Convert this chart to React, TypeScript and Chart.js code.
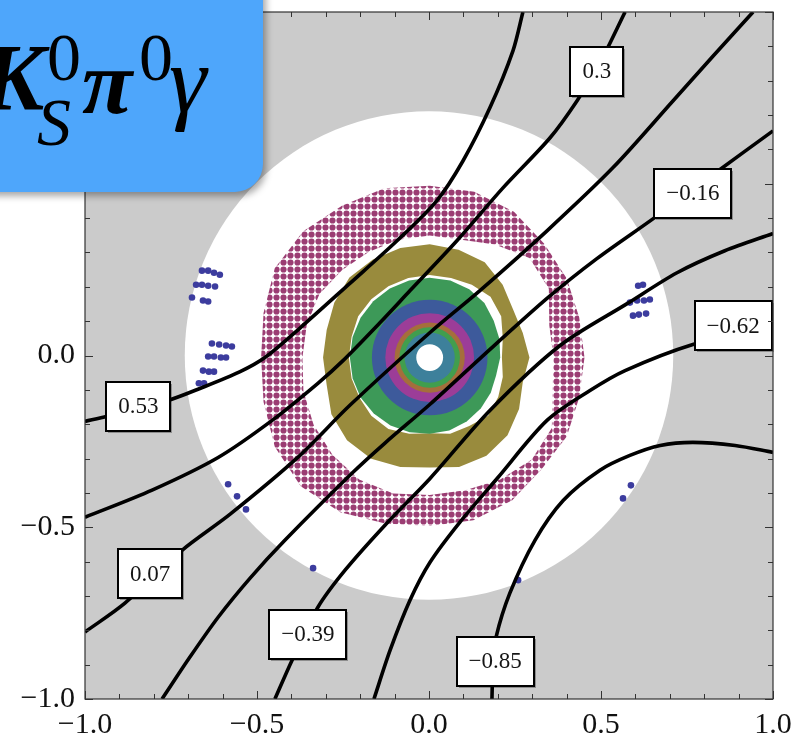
import React, { useEffect, useRef } from "react";
import { Chart, registerables } from "chart.js";

Chart.register(...registerables);

// ---------------- data ----------------
const axisTicks = [-1.0, -0.5, 0.0, 0.5, 1.0];
const minorTickStep = 0.1;
const diskRadius = 0.71;
const ringCenterX = 0.002;
const ringCenterY = -0.006;

// band boundaries: radius read at each angle (degrees)
const bandAngles = [0, 15, 30, 45, 60, 75, 90, 105, 120, 135, 150, 165, 180, 195, 210, 225, 240, 255, 270, 285, 300, 315, 330, 345];
const purpleOuter = [0.45, 0.45, 0.46, 0.47, 0.49, 0.5, 0.5, 0.51, 0.51, 0.52, 0.52, 0.5, 0.49, 0.5, 0.52, 0.53, 0.52, 0.5, 0.49, 0.49, 0.48, 0.46, 0.46, 0.45];
const purpleInner = [0.36, 0.36, 0.4, 0.41, 0.38, 0.355, 0.355, 0.355, 0.355, 0.36, 0.37, 0.37, 0.37, 0.38, 0.39, 0.4, 0.41, 0.41, 0.4, 0.4, 0.41, 0.42, 0.41, 0.37];
const oliveOuter = [0.29, 0.28, 0.28, 0.3, 0.32, 0.325, 0.33, 0.33, 0.33, 0.33, 0.32, 0.31, 0.31, 0.31, 0.33, 0.34, 0.34, 0.33, 0.32, 0.33, 0.33, 0.32, 0.3, 0.28];
const oliveInner = [0.21, 0.22, 0.24, 0.25, 0.245, 0.24, 0.24, 0.24, 0.24, 0.24, 0.24, 0.235, 0.235, 0.235, 0.235, 0.24, 0.24, 0.23, 0.22, 0.23, 0.23, 0.24, 0.23, 0.22];
const greenOuter = [0.205, 0.21, 0.215, 0.225, 0.23, 0.232, 0.232, 0.232, 0.232, 0.232, 0.232, 0.232, 0.232, 0.232, 0.232, 0.23, 0.228, 0.225, 0.222, 0.22, 0.215, 0.21, 0.205, 0.2];
// inner concentric rings, outer radius of each
const innerRingRadii = [0.168, 0.129, 0.102, 0.088, 0.073, 0.039];

// sparse outer points
const navyX = [-0.66, -0.642, -0.625, -0.608, -0.677, -0.66, -0.642, -0.622, -0.689, -0.657, -0.642, -0.631, -0.61, -0.59, -0.573, -0.642, -0.625, -0.605, -0.59, -0.657, -0.64, -0.625, -0.669, -0.654, 0.608, 0.622, 0.584, 0.605, 0.625, 0.642, 0.593, 0.61, 0.631, -0.584, -0.558, -0.532, -0.337, 0.587, 0.564, 0.259];
const navyY = [0.247, 0.247, 0.241, 0.235, 0.206, 0.206, 0.203, 0.201, 0.169, 0.16, 0.157, 0.035, 0.032, 0.029, 0.026, -0.003, -0.003, -0.006, -0.006, -0.044, -0.047, -0.047, -0.081, -0.081, 0.203, 0.206, 0.154, 0.16, 0.16, 0.163, 0.116, 0.119, 0.122, -0.375, -0.41, -0.448, -0.619, -0.378, -0.416, -0.654];

// contour lines
const contour053 = [[-1.0, -0.192], [-0.936, -0.177], [-0.759, -0.131], [-0.666, -0.096], [-0.549, -0.047], [-0.477, -0.006], [-0.375, 0.08], [-0.23, 0.21], [-0.093, 0.334], [0.023, 0.451], [0.099, 0.567], [0.177, 0.721], [0.244, 0.887], [0.273, 1.0]];
const contour030 = [[-1.0, -0.471], [-0.805, -0.392], [-0.613, -0.297], [-0.456, -0.189], [-0.323, -0.081], [-0.25, -0.015], [-0.142, 0.096], [-0.055, 0.189], [0.081, 0.334], [0.215, 0.488], [0.352, 0.634], [0.43, 0.741], [0.497, 0.852], [0.57, 1.0]];
const contour007 = [[-1.0, -0.805], [-0.884, -0.721], [-0.718, -0.567], [-0.578, -0.462], [-0.384, -0.299], [-0.23, -0.145], [0.003, 0.067], [0.148, 0.189], [0.343, 0.363], [0.535, 0.547], [0.709, 0.741], [0.826, 0.872], [0.942, 1.0]];
const contourM016 = [[-0.776, -1.0], [-0.695, -0.878], [-0.613, -0.762], [-0.52, -0.648], [-0.419, -0.538], [-0.224, -0.343], [-0.128, -0.255], [0.003, -0.142], [0.148, -0.009], [0.343, 0.166], [0.488, 0.282], [0.654, 0.4], [0.83, 0.53], [1.0, 0.654]];
const contourM039 = [[-0.448, -1.0], [-0.398, -0.887], [-0.323, -0.733], [-0.244, -0.625], [-0.128, -0.494], [0.003, -0.358], [0.177, -0.16], [0.381, 0.029], [0.576, 0.151], [0.721, 0.241], [0.86, 0.305], [1.0, 0.355]];
const contourM062 = [[-0.16, -1.0], [-0.113, -0.858], [-0.055, -0.712], [0.003, -0.602], [0.09, -0.485], [0.198, -0.358], [0.343, -0.189], [0.468, -0.102], [0.57, -0.044], [0.767, 0.032], [1.0, 0.087]];
const contourM085 = [[0.183, -1.0], [0.186, -0.9], [0.195, -0.82], [0.235, -0.692], [0.308, -0.538], [0.39, -0.422], [0.497, -0.334], [0.584, -0.291], [0.672, -0.262], [0.767, -0.253], [0.89, -0.262], [1.0, -0.282]];

const contourLabelText = ["0.3", "\u22120.16", "\u22120.62", "0.53", "0.07", "\u22120.39", "\u22120.85"];
const contourLabelX = [0.488, 0.767, 0.884, -0.845, -0.811, -0.352, 0.192];
const contourLabelY = [0.828, 0.472, 0.086, -0.148, -0.635, -0.811, -0.89];

// ---------------- styles ----------------
const COLORS = {
  navy: "rgb(60,60,158)",
  purple: "rgb(155,61,115)",
  olive: "rgb(153,139,61)",
  green: "rgb(61,153,88)",
  inner: ["rgb(61,90,155)", "rgb(156,61,152)", "rgb(165,110,60)", "rgb(65,158,78)", "rgb(61,128,155)", "#ffffff"],
};
const SERIF = '"Liberation Serif", "Times New Roman", serif';

function dotPattern(color: string, cell: number, rad: number) {
  const c = document.createElement("canvas");
  c.width = cell;
  c.height = cell;
  const g = c.getContext("2d")!;
  g.fillStyle = color;
  g.beginPath();
  g.arc(cell / 2, cell / 2, rad, 0, Math.PI * 2);
  g.fill();
  return g.createPattern(c, "repeat");
}

function bandPoints(outer: number[], inner?: number[]) {
  const n = bandAngles.length;
  const pts: { x: number; y: number }[] = [];
  for (let i = 0; i <= n; i++) {
    const k = i % n;
    const a = (bandAngles[k] * Math.PI) / 180;
    pts.push({ x: ringCenterX + outer[k] * Math.cos(a), y: ringCenterY + outer[k] * Math.sin(a) });
  }
  if (inner) {
    for (let i = n; i >= 0; i--) {
      const k = i % n;
      const a = (bandAngles[k] * Math.PI) / 180;
      pts.push({ x: ringCenterX + inner[k] * Math.cos(a), y: ringCenterY + inner[k] * Math.sin(a) });
    }
  }
  return pts;
}

const pxPerUnit = (chart: any) => {
  const s = chart.scales.x;
  return Math.abs(s.getPixelForValue(1) - s.getPixelForValue(0));
};

const fmt = (v: number) => v.toFixed(1).replace("-", "\u2212");

export default function App() {
  const ref = useRef<HTMLCanvasElement>(null);

  useEffect(() => {
    const canvas = ref.current!;
    const toPts = (arr: number[][]) => arr.map(([x, y]) => ({ x, y }));
    const contours = [contour053, contour030, contour007, contourM016, contourM039, contourM062, contourM085];
    const datasets: any[] = [];

    contours.forEach((c) =>
      datasets.push({
        data: toPts(c),
        showLine: true,
        borderColor: "#000",
        borderWidth: 3.6,
        pointRadius: 0,
        fill: false,
        tension: 0.3,
        clip: 0,
        order: 0,
      })
    );

    datasets.push({
      data: navyX.map((x, i) => ({ x, y: navyY[i] })),
      showLine: false,
      pointRadius: 3.3,
      pointBorderWidth: 0,
      backgroundColor: COLORS.navy,
      order: 1,
    });

    innerRingRadii.forEach((r, i) =>
      datasets.push({
        data: [{ x: ringCenterX, y: ringCenterY }],
        showLine: false,
        pointRadius: (ctx: any) => r * pxPerUnit(ctx.chart),
        pointBorderWidth: 0,
        backgroundColor: COLORS.inner[i],
        order: 7 - i,
      })
    );

    datasets.push({
      data: bandPoints(greenOuter),
      showLine: true,
      borderWidth: 0,
      borderColor: "rgba(0,0,0,0)",
      pointRadius: 0,
      tension: 0,
      fill: "shape",
      backgroundColor: COLORS.green,
      order: 8,
    });
    datasets.push({
      data: bandPoints(oliveOuter, oliveInner),
      showLine: true,
      borderWidth: 0,
      borderColor: "rgba(0,0,0,0)",
      pointRadius: 0,
      tension: 0,
      fill: "shape",
      backgroundColor: COLORS.olive,
      order: 9,
    });
    datasets.push({
      data: bandPoints(purpleOuter, purpleInner),
      showLine: true,
      borderWidth: 0,
      borderColor: "rgba(0,0,0,0)",
      pointRadius: 0,
      tension: 0,
      fill: "shape",
      backgroundColor: dotPattern(COLORS.purple, 7, 3.1),
      order: 10,
    });

    const backgroundPlugin = {
      id: "bgDisk",
      beforeDatasetsDraw(chart: any) {
        const { ctx, chartArea: a, scales } = chart;
        ctx.save();
        ctx.fillStyle = "#cbcbcb";
        ctx.fillRect(a.left, a.top, a.right - a.left, a.bottom - a.top);
        ctx.fillStyle = "#ffffff";
        ctx.beginPath();
        ctx.arc(scales.x.getPixelForValue(0), scales.y.getPixelForValue(0), diskRadius * pxPerUnit(chart), 0, Math.PI * 2);
        ctx.fill();
        ctx.restore();
      },
    };

    const labelPlugin = {
      id: "contourLabels",
      afterDatasetsDraw(chart: any) {
        const { ctx, scales } = chart;
        ctx.save();
        ctx.font = `23px ${SERIF}`;
        ctx.textAlign = "center";
        ctx.textBaseline = "middle";
        contourLabelText.forEach((t, i) => {
          const cx = scales.x.getPixelForValue(contourLabelX[i]);
          const cy = scales.y.getPixelForValue(contourLabelY[i]);
          const w = Math.round(ctx.measureText(t).width + 24);
          const h = 49;
          const x0 = Math.round(cx - w / 2);
          const y0 = Math.round(cy - h / 2);
          ctx.fillStyle = "rgba(0,0,0,0.3)";
          ctx.fillRect(x0 + 2, y0 + 2, w, h);
          ctx.fillStyle = "#fff";
          ctx.fillRect(x0, y0, w, h);
          ctx.strokeStyle = "#000";
          ctx.lineWidth = 2;
          ctx.strokeRect(x0, y0, w, h);
          ctx.fillStyle = "#151515";
          ctx.fillText(t, cx, cy + 1);
        });
        ctx.restore();
      },
    };

    const framePlugin = {
      id: "frameTitle",
      afterDraw(chart: any) {
        const { ctx, chartArea: a, scales } = chart;
        ctx.save();
        ctx.strokeStyle = "#333";
        ctx.lineWidth = 1.2;
        ctx.strokeRect(a.left, a.top, a.right - a.left, a.bottom - a.top);
        ctx.lineWidth = 1;
        const nMinor = Math.round(2 / minorTickStep);
        for (let i = 0; i <= nMinor; i++) {
          const v = -1 + i * minorTickStep;
          const major = axisTicks.some((t) => Math.abs(t - v) < 1e-6);
          const len = major ? 8 : 5;
          const px = Math.round(scales.x.getPixelForValue(v)) + 0.5;
          const py = Math.round(scales.y.getPixelForValue(v)) + 0.5;
          ctx.beginPath();
          ctx.moveTo(px, a.bottom);
          ctx.lineTo(px, a.bottom - len);
          ctx.moveTo(px, a.top);
          ctx.lineTo(px, a.top + len);
          ctx.moveTo(a.left, py);
          ctx.lineTo(a.left + len, py);
          ctx.moveTo(a.right, py);
          ctx.lineTo(a.right - len, py);
          ctx.stroke();
        }
        ctx.restore();

        // title box
        ctx.save();
        ctx.shadowColor = "rgba(0,0,0,0.35)";
        ctx.shadowBlur = 7;
        ctx.shadowOffsetX = 3;
        ctx.shadowOffsetY = 4;
        ctx.fillStyle = "#4ea6fb";
        const x = -40, y = -40, w = 303, h = 232, r = 28;
        ctx.beginPath();
        ctx.moveTo(x + r, y);
        ctx.lineTo(x + w - r, y);
        ctx.arcTo(x + w, y, x + w, y + r, r);
        ctx.lineTo(x + w, y + h - r);
        ctx.arcTo(x + w, y + h, x + w - r, y + h, r);
        ctx.lineTo(x + r, y + h);
        ctx.arcTo(x, y + h, x, y + h - r, r);
        ctx.lineTo(x, y + r);
        ctx.arcTo(x, y, x + r, y, r);
        ctx.closePath();
        ctx.fill();
        ctx.restore();

        ctx.save();
        ctx.fillStyle = "#000";
        ctx.textAlign = "left";
        ctx.textBaseline = "alphabetic";
        ctx.font = `italic bold 95px ${SERIF}`;
        ctx.fillText("K", -19, 110);
        ctx.font = `68px ${SERIF}`;
        ctx.fillText("0", 47, 80);
        ctx.font = `italic 68px ${SERIF}`;
        ctx.fillText("S", 37, 145);
        ctx.font = `italic bold 92px ${SERIF}`;
        ctx.fillText("\u03c0", 82, 113);
        ctx.font = `68px ${SERIF}`;
        ctx.fillText("0", 139, 80);
        ctx.font = `italic 95px ${SERIF}`;
        ctx.fillText("\u03b3", 169, 112);
        ctx.restore();
      },
    };

    const tickOpts = {
      font: { family: SERIF, size: 30 },
      color: "#111",
      autoSkip: false,
      maxRotation: 0,
      callback: (v: any) => fmt(Number(v)),
    };

    const chart = new Chart(canvas, {
      type: "scatter",
      data: { datasets },
      options: {
        animation: false,
        responsive: false,
        devicePixelRatio: 1,
        events: [],
        layout: { padding: { top: 12, right: 24, bottom: 0, left: 0 } },
        plugins: { legend: { display: false }, tooltip: { enabled: false } },
        scales: {
          x: {
            type: "linear",
            min: -1,
            max: 1,
            grid: { display: false, drawTicks: false },
            border: { display: false },
            ticks: { ...tickOpts, padding: 8 },
            afterBuildTicks: (s: any) => {
              s.ticks = axisTicks.map((v) => ({ value: v }));
            },
            afterFit: (s: any) => {
              s.height = 43;
              s.paddingLeft = 0;
              s.paddingRight = 0;
            },
          },
          y: {
            type: "linear",
            min: -1,
            max: 1,
            grid: { display: false, drawTicks: false },
            border: { display: false },
            ticks: { ...tickOpts, padding: 10 },
            afterBuildTicks: (s: any) => {
              s.ticks = axisTicks.map((v) => ({ value: v }));
            },
            afterFit: (s: any) => {
              s.width = 85;
              s.paddingTop = 0;
              s.paddingBottom = 0;
            },
          },
        },
      } as any,
      plugins: [backgroundPlugin, labelPlugin, framePlugin],
    });
    return () => chart.destroy();
  }, []);

  return (
    <div style={{ position: "fixed", left: 0, top: 0, width: 797, height: 742, background: "#fff" }}>
      <canvas ref={ref} width={797} height={742} style={{ display: "block" }} />
    </div>
  );
}
